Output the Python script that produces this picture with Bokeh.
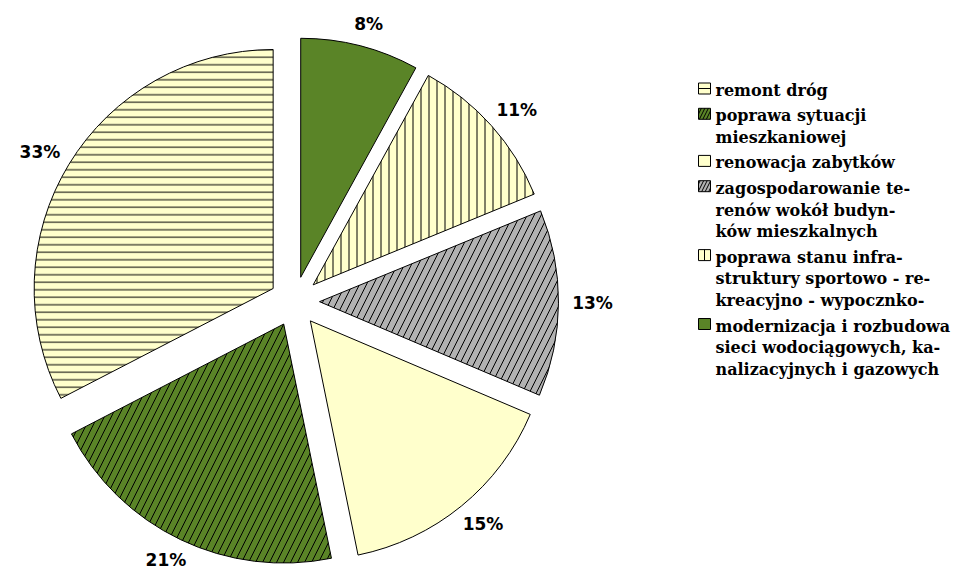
import math
from bokeh.plotting import figure
from bokeh.models import Range1d, ColumnDataSource
from bokeh.core.properties import value
from bokeh.embed import file_html
from bokeh.resources import INLINE

# ---- data (clockwise from 12 o'clock) ----
categories = [
    "modernizacja i rozbudowa sieci wodociągowych, kanalizacyjnych i gazowych",
    "poprawa stanu infrastruktury sportowo - rekreacyjno - wypocznko-",
    "zagospodarowanie terenów wokół budynków mieszkalnych",
    "renowacja zabytków",
    "poprawa sytuacji mieszkaniowej",
    "remont dróg",
]
shares = [8.0, 10.8, 12.6, 15.4, 20.6, 32.6]
fill_colors = ["#5A8427", "#FFFFCC", "#B2B2B2", "#FFFFCC", "#5A8427", "#FFFFCC"]
hatches = [" ", "vertical_line", "right_diagonal_line", " ", "right_diagonal_line", "horizontal_line"]
hatch_scales = [8, 8, 14, 8, 14, 7.5]

# legend (top to bottom) with the original hyphenated line breaks
legend_order = [5, 4, 3, 2, 1, 0]
legend_lines = [
    ["remont dróg"],
    ["poprawa sytuacji", "mieszkaniowej"],
    ["renowacja zabytków"],
    ["zagospodarowanie te-", "renów wokół budyn-", "ków mieszkalnych"],
    ["poprawa stanu infra-", "struktury sportowo - re-", "kreacyjno - wypocznko-"],
    ["modernizacja i rozbudowa", "sieci wodociągowych, ka-", "nalizacyjnych i gazowych"],
]

# ---- layout ----
W, H = 955, 570
PAGE_H = 572
def Y(py):  # picture pixel y -> data y
    return PAGE_H - py

cx, cy = 294.0, Y(301.0)
R = 239.0
EXPLODE = 25.0
LABEL_RX = 298.0
LABEL_RY = 287.0

p = figure(width=W, height=H, output_backend="svg", toolbar_location=None,
           x_range=Range1d(0, W), y_range=Range1d(Y(H), Y(0)),
           min_border=0, outline_line_color=None, background_fill_color="white",
           border_fill_color="white")
p.axis.visible = False
p.grid.visible = False

total = sum(shares)
xs, ys, starts, ends, lx, ly, ltext = [], [], [], [], [], [], []
acc = 0.0
for v in shares:
    t1 = acc / total * 2 * math.pi
    acc += v
    t2 = acc / total * 2 * math.pi
    bis = (t1 + t2) / 2
    xs.append(cx + EXPLODE * math.sin(bis))
    ys.append(cy + EXPLODE * math.cos(bis))
    starts.append(math.pi / 2 - t2)
    ends.append(math.pi / 2 - t1)
    lx.append(cx + LABEL_RX * math.sin(bis))
    ly.append(cy + LABEL_RY * math.cos(bis))
    ltext.append(f"{round(v / total * 100)}%")

src = ColumnDataSource(dict(x=xs, y=ys, start=starts, end=ends,
                            fill=fill_colors, hatch=hatches, hs=hatch_scales))
p.wedge(x="x", y="y", radius=R, start_angle="start", end_angle="end",
        fill_color="fill", line_color="black", line_width=1,
        hatch_pattern="hatch", hatch_color="black", hatch_weight=1,
        hatch_scale="hs", source=src)

p.text(x=lx, y=ly, text=ltext, text_align="center", text_baseline="middle",
       text_font=value("DejaVu Sans"), text_font_style="bold",
       text_font_size="17px", text_color="black")

# ---- legend ----
LEG_X_BOX = 704.0
LEG_X_TEXT = 715.0
LINE_H = 21.8
ENTRY_GAP = 25.3
y0 = 90.0
bx, by, bfill, bhatch = [], [], [], []
tx, ty, tt = [], [], []
cur = y0
for k, idx in enumerate(legend_order):
    lines = legend_lines[k]
    bx.append(LEG_X_BOX)
    by.append(Y(cur - 2))
    bfill.append(fill_colors[idx])
    bhatch.append(hatches[idx])
    for j, ln in enumerate(lines):
        tx.append(LEG_X_TEXT)
        ty.append(Y(cur + j * LINE_H))
        tt.append(ln)
    cur += (len(lines) - 1) * LINE_H + ENTRY_GAP

p.rect(x=bx, y=by, width=12, height=11, fill_color=bfill, line_color="black",
       line_width=1, hatch_pattern=bhatch, hatch_color="black",
       hatch_weight=1, hatch_scale=7)
p.text(x=tx, y=ty, text=tt, text_align="left", text_baseline="middle",
       text_font=value("DejaVu Serif"), text_font_style="bold",
       text_font_size="16px", text_color="black")

open("out.html", "w").write(file_html(p, INLINE))
